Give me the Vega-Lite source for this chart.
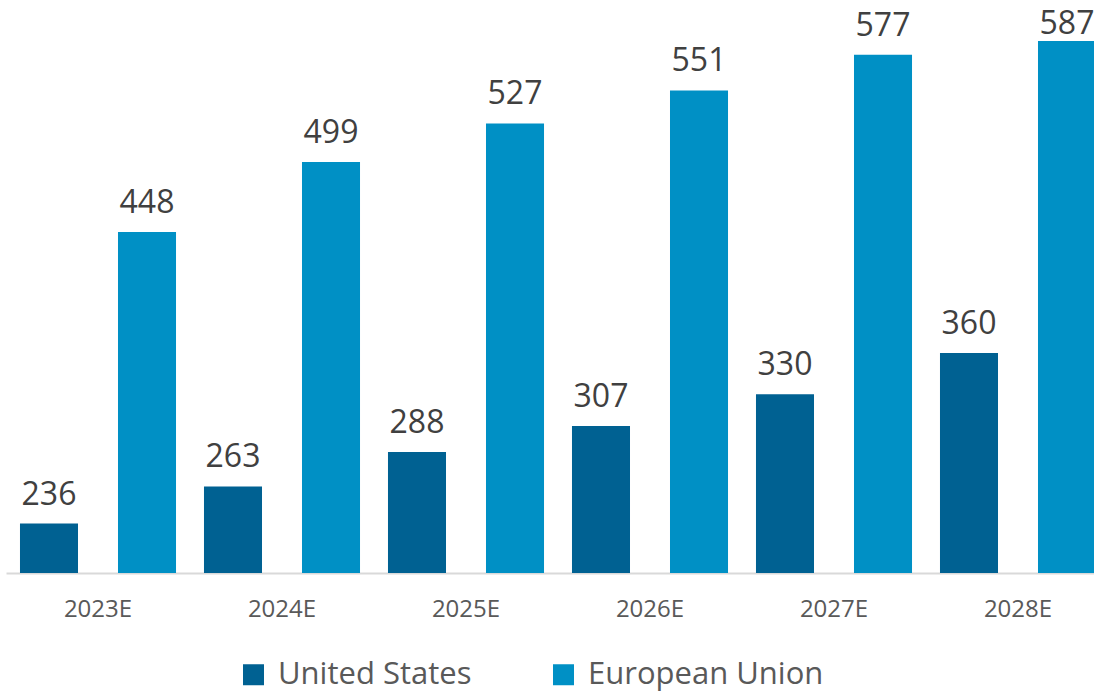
{
  "$schema": "https://vega.github.io/schema/vega-lite/v6.json",
  "width": 1088,
  "height": 550,
  "autosize": {"type": "none"},
  "padding": {"left": 6, "top": 23, "right": 0, "bottom": 119},
  "background": "white",
  "config": {"view": {"stroke": null}, "font": "Open Sans"},
  "data": {"values": [
    {"year": "2023E", "region": "United States", "value": 236},
    {"year": "2023E", "region": "European Union", "value": 448},
    {"year": "2024E", "region": "United States", "value": 263},
    {"year": "2024E", "region": "European Union", "value": 499},
    {"year": "2025E", "region": "United States", "value": 288},
    {"year": "2025E", "region": "European Union", "value": 527},
    {"year": "2026E", "region": "United States", "value": 307},
    {"year": "2026E", "region": "European Union", "value": 551},
    {"year": "2027E", "region": "United States", "value": 330},
    {"year": "2027E", "region": "European Union", "value": 577},
    {"year": "2028E", "region": "United States", "value": 360},
    {"year": "2028E", "region": "European Union", "value": 587}
  ]},
  "encoding": {
    "x": {"field": "year", "type": "nominal", "title": null,
      "scale": {"range": [0, 1104], "paddingInner": 0.152, "paddingOuter": 0.076},
      "axis": {"labelAngle": 0, "labelFontSize": 24, "labelColor": "#595959", "labelPadding": 24, "ticks": false, "domainColor": "#d9d9d9", "domainWidth": 2}},
    "xOffset": {"field": "region", "type": "nominal", "sort": ["United States", "European Union"],
      "scale": {"paddingInner": 0.408, "paddingOuter": 0}},
    "y": {"field": "value", "type": "quantitative", "scale": {"domain": [200, 600], "zero": false}, "axis": null}
  },
  "layer": [
    {"mark": {"type": "bar", "clip": true},
      "encoding": {
        "color": {"field": "region", "type": "nominal", "sort": ["United States", "European Union"],
          "scale": {"domain": ["United States", "European Union"], "range": ["#006192", "#0090c5"]},
          "legend": {"title": null, "orient": "none", "legendX": 232, "legendY": 636, "direction": "horizontal",
            "symbolType": "square", "symbolSize": 441, "symbolStrokeWidth": 0, "labelFontSize": 31, "labelColor": "#595959",
            "labelOffset": 9, "labelLimit": 400, "columnPadding": 76}}
      }},
    {"transform": [{"filter": "datum.value < 580"}],
      "mark": {"type": "text", "fontSize": 32, "color": "#404040", "baseline": "alphabetic", "dy": -19},
      "encoding": {"text": {"field": "value", "type": "quantitative"}}},
    {"transform": [{"filter": "datum.value >= 580"}],
      "mark": {"type": "text", "fontSize": 32, "color": "#404040", "baseline": "alphabetic", "dy": -7},
      "encoding": {"text": {"field": "value", "type": "quantitative"}}}
  ]
}
